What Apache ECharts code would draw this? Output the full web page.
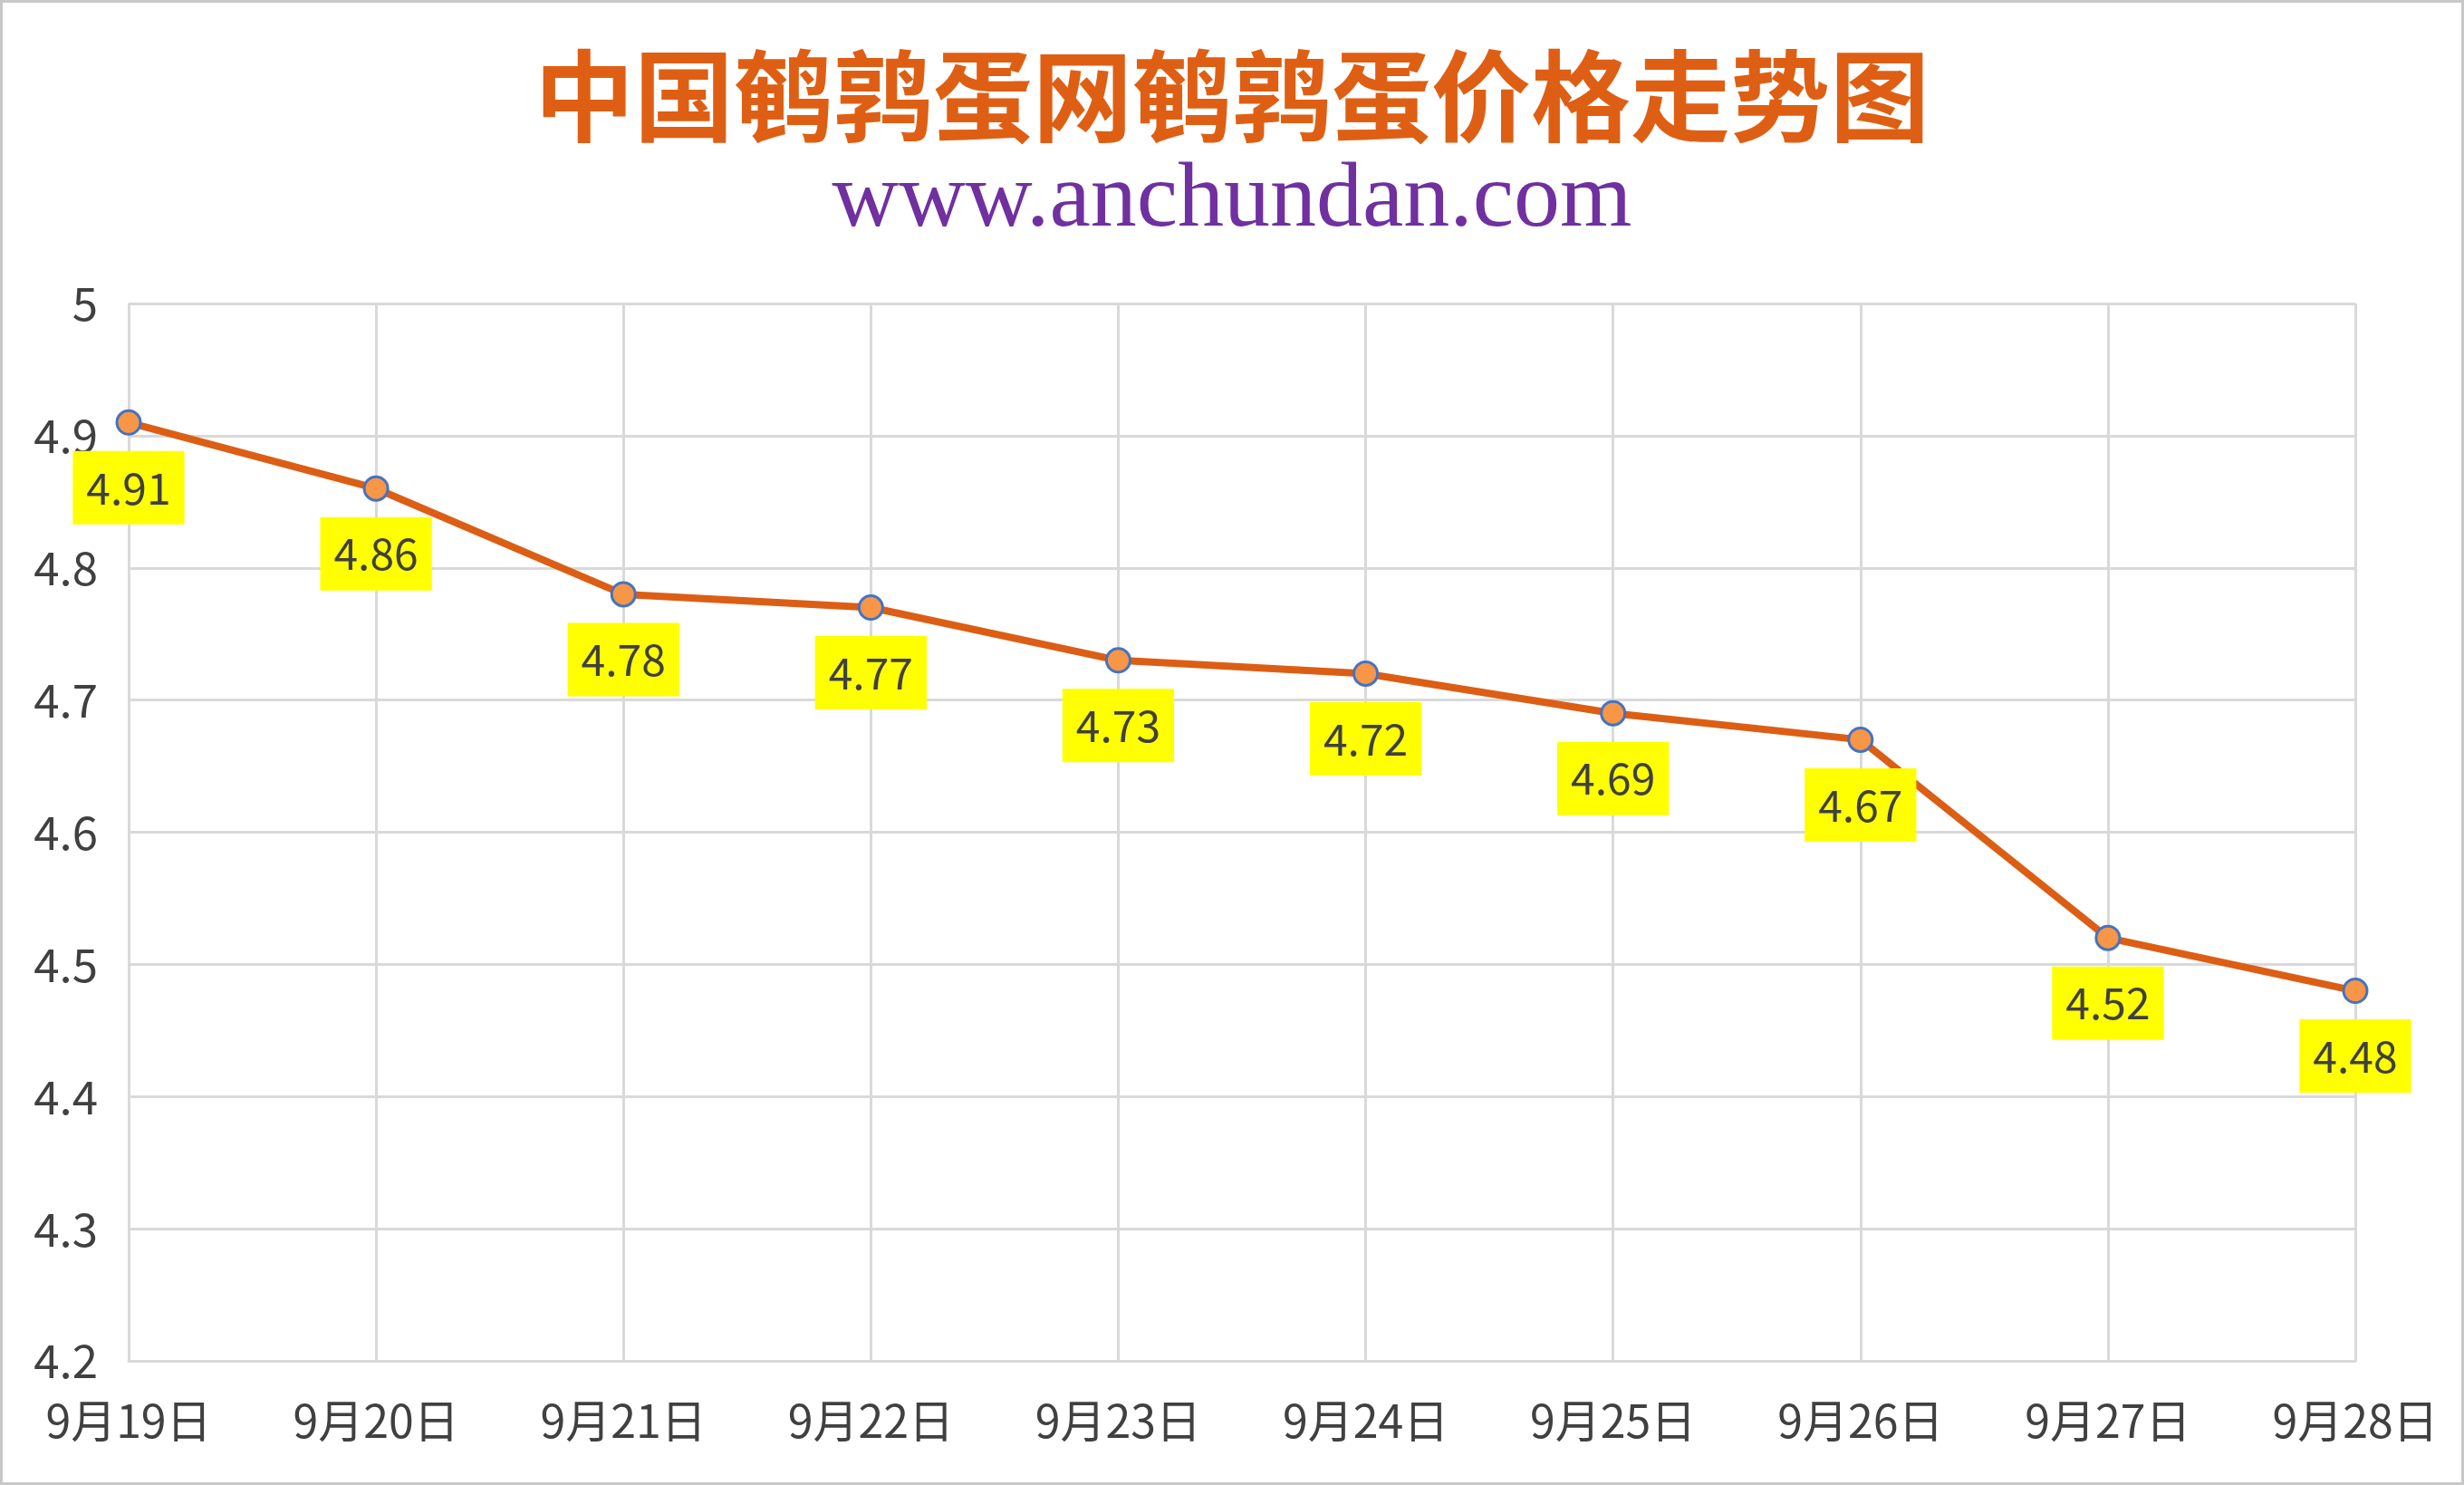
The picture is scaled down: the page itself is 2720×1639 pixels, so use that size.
<!DOCTYPE html>
<html>
<head>
<meta charset="utf-8">
<script src="https://cdn.jsdelivr.net/npm/echarts@6/dist/echarts.min.js"></script>
<style>
html,body{margin:0;padding:0;background:#fff;}
#wrap{width:2720px;height:1639px;box-sizing:border-box;border:3px solid #c8c8c8;position:relative;overflow:hidden;}
#chart{position:absolute;left:-3px;top:-3px;width:2720px;height:1639px;}
</style>
</head>
<body>
<div id="wrap"><div id="chart"></div></div>
<script>
const titleText = '中国鹌鹑蛋网鹌鹑蛋价格走势图';
const subtitleText = 'www.anchundan.com';
const categories = ['9月19日','9月20日','9月21日','9月22日','9月23日','9月24日','9月25日','9月26日','9月27日','9月28日'];
const prices = [4.91, 4.86, 4.78, 4.77, 4.73, 4.72, 4.69, 4.67, 4.52, 4.48];
const yMin = 4.2, yMax = 5, yStep = 0.1;

const chart = echarts.init(document.getElementById('chart'), null, {renderer:'canvas'});
const cjk = '"Noto Sans CJK SC", "Noto Sans", sans-serif';
chart.setOption({
  backgroundColor: 'transparent',
  animation: false,
  title: [
    {text: titleText, left: 'center', top: 46,
     textStyle: {fontFamily: cjk, fontSize: 110, lineHeight: 110, fontWeight: 'bold', color: '#DE5F14'}},
    {text: subtitleText, left: 'center', top: 166,
     textStyle: {fontFamily: '"Liberation Serif", "DejaVu Serif", serif', fontSize: 102, lineHeight: 102, fontWeight: 'normal', color: '#7030A0'}}
  ],
  grid: {left: 142, right: 120, top: 335, bottom: 137, containLabel: false},
  xAxis: {
    type: 'category', data: categories, boundaryGap: false,
    axisLine: {show: true, lineStyle: {color: '#D9D9D9', width: 3}},
    axisTick: {show: false},
    axisLabel: {fontFamily: cjk, fontSize: 50, color: '#404040', margin: 41, interval: 0},
    splitLine: {show: true, lineStyle: {color: '#D9D9D9', width: 3}}
  },
  yAxis: {
    type: 'value', min: yMin, max: yMax, interval: yStep,
    axisLine: {show: false}, axisTick: {show: false},
    axisLabel: {fontFamily: cjk, fontSize: 51, color: '#404040', margin: 34,
      formatter: v => String(Math.round(v * 10) / 10)},
    splitLine: {show: true, lineStyle: {color: '#D9D9D9', width: 3}}
  },
  series: [{
    type: 'line', data: prices,
    lineStyle: {color: '#DC5E14', width: 8},
    symbol: 'circle', symbolSize: 26,
    itemStyle: {color: '#F79646', borderColor: '#4472C4', borderWidth: 3},
    label: {show: true, position: 'bottom', distance: 17,
      fontFamily: cjk, fontSize: 48, lineHeight: 51, color: '#404040',
      backgroundColor: '#FFFF00', padding: [15, 15, 15, 15],
      formatter: p => p.value.toFixed(2)},
    z: 3
  }]
});
</script>
</body>
</html>
